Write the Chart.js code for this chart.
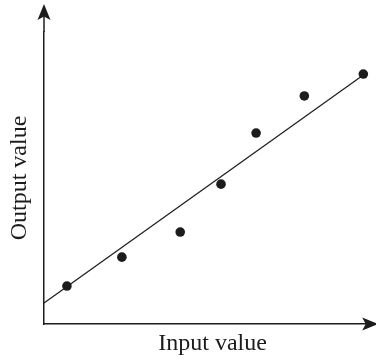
<!DOCTYPE html>
<html>
<head>
<meta charset="utf-8">
<script src="https://cdn.jsdelivr.net/npm/chart.js@4"></script>
<style>
  html, body { margin: 0; padding: 0; background: #fff; overflow: hidden; }
  /* the x axis runs a little past the right edge of the window */
  #myChart { display: block; }
</style>
</head>
<body>
<canvas id="myChart" width="386" height="359"></canvas>
<script>
// observed points
const inputValues = [0.68, 2.31, 4.04, 5.25, 6.29, 7.72, 9.47];
const outputValues = [1.3, 2.29, 3.15, 4.79, 6.54, 7.81, 8.56];
// fitted line end points
const fitInput = [0, 9.47];
const fitOutput = [0.72, 8.53];

const xTitle = 'Input value';
const yTitle = 'Output value';

const ink = '#1c1c1c';

// axis arrows (the axes run on past the data area)
const axisArrows = {
    id: 'axisArrows',
    afterDraw(chart) {
        const { ctx, chartArea } = chart;
        const left = chartArea.left, bottom = chartArea.bottom;
        const yTip = chartArea.top - 28;
        const xTip = chartArea.right - 3;
        ctx.save();
        ctx.strokeStyle = ink;
        ctx.fillStyle = ink;
        ctx.lineWidth = 1.5;
        ctx.beginPath();
        ctx.moveTo(left, chartArea.top);
        ctx.lineTo(left, yTip + 10);
        ctx.stroke();
        // up arrow
        ctx.beginPath();
        ctx.moveTo(left, yTip);
        ctx.lineTo(left + 6.5, yTip + 16);
        ctx.lineTo(left, yTip + 12.5);
        ctx.lineTo(left - 6.5, yTip + 16);
        ctx.closePath();
        ctx.fill();
        // right arrow
        ctx.beginPath();
        ctx.moveTo(xTip, bottom);
        ctx.lineTo(xTip - 16, bottom - 6.5);
        ctx.lineTo(xTip - 12.5, bottom);
        ctx.lineTo(xTip - 16, bottom + 6.5);
        ctx.closePath();
        ctx.fill();
        ctx.restore();
    }
};

const ctx = document.getElementById('myChart').getContext('2d');

new Chart(ctx, {
    type: 'scatter',
    data: {
        datasets: [
            {
                type: 'line',
                data: fitInput.map((x, i) => ({ x: x, y: fitOutput[i] })),
                borderColor: ink,
                borderWidth: 1.2,
                pointRadius: 0,
                fill: false
            },
            {
                data: inputValues.map((x, i) => ({ x: x, y: outputValues[i] })),
                backgroundColor: ink,
                borderWidth: 0,
                pointRadius: 4.8
            }
        ]
    },
    options: {
        responsive: false,
        animation: false,
        scales: {
            x: {
                type: 'linear',
                min: 0,
                max: 10,
                ticks: { display: false },
                grid: { display: false },
                border: { color: ink, width: 1.5 },
                title: {
                    display: true,
                    text: xTitle,
                    color: ink,
                    font: { family: 'Liberation Serif', size: 24 },
                    padding: { top: 0, bottom: 1 }
                },
                afterFit: function (scale) { scale.height = 35; }
            },
            y: {
                type: 'linear',
                min: 0,
                max: 10,
                ticks: { display: false },
                grid: { display: false },
                border: { color: ink, width: 1.5 },
                title: {
                    display: true,
                    text: yTitle,
                    color: ink,
                    font: { family: 'Liberation Serif', size: 24 },
                    padding: { top: 5, bottom: 0 }
                },
                afterFit: function (scale) { scale.width = 44; }
            }
        },
        plugins: {
            legend: { display: false },
            tooltip: { enabled: false }
        },
        layout: {
            padding: { left: 0, right: 0, top: 32, bottom: 0 }
        }
    },
    plugins: [axisArrows]
});
</script>
</body>
</html>
